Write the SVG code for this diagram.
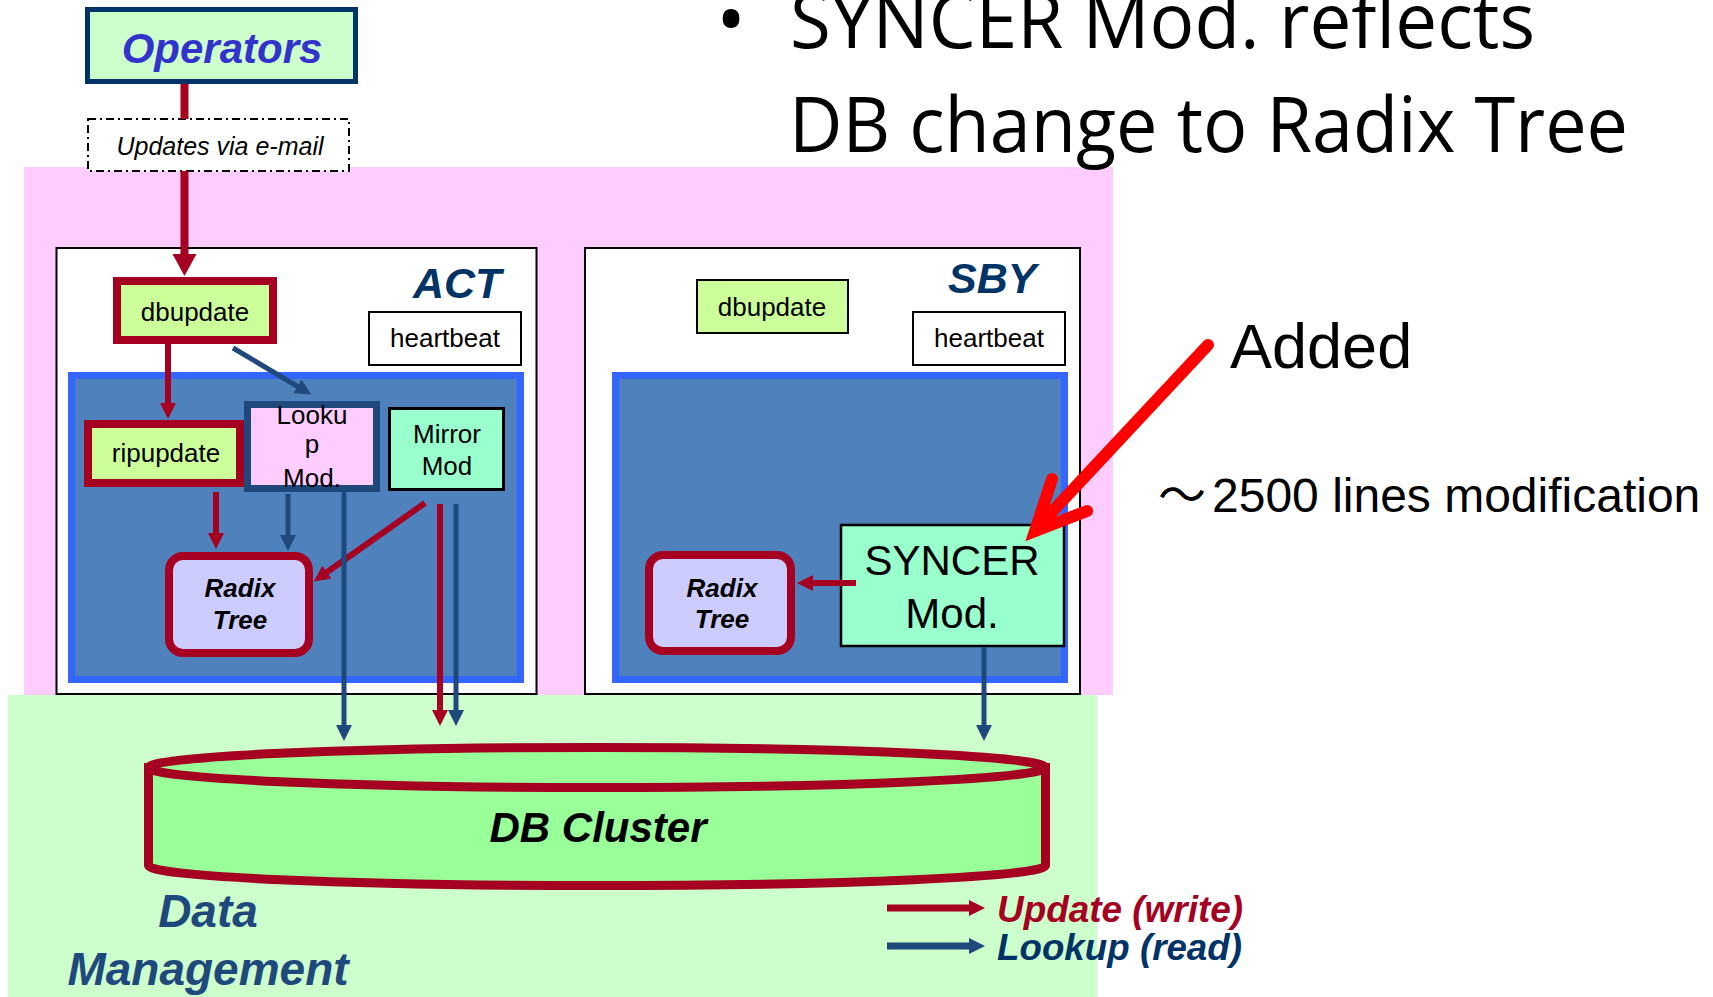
<svg xmlns="http://www.w3.org/2000/svg" width="1713" height="997" viewBox="0 0 1713 997">
<style>
text{font-family:"Liberation Sans",Arial,sans-serif;}
.box{stroke:#000;stroke-width:2;}
.bi{font-weight:bold;font-style:italic;}
.c{text-anchor:middle;}
.t26{font-size:26px;fill:#000;}
.red{stroke:#a50021;fill:none;}
.navy{stroke:#1f497d;fill:none;}
.green{fill:#ccff99;}
.radix{fill:#ccccff;stroke:#a50021;stroke-width:8;}
.blue{fill:#4f81bd;stroke:#3366ff;stroke-width:7;}
.title{font-size:43px;fill:#003366;font-weight:bold;font-style:italic;}
</style>
<defs>
<marker id="hr" markerUnits="userSpaceOnUse" markerWidth="17" markerHeight="17" refX="1" refY="8" orient="auto"><path d="M0,0 L16,8 L0,16 z" fill="#a50021"/></marker>
<marker id="hn" markerUnits="userSpaceOnUse" markerWidth="17" markerHeight="17" refX="1" refY="8" orient="auto"><path d="M0,0 L16,8 L0,16 z" fill="#1f497d"/></marker>
<marker id="hrb" markerUnits="userSpaceOnUse" markerWidth="23" markerHeight="24" refX="1" refY="12" orient="auto"><path d="M0,0 L22,12 L0,24 z" fill="#a50021"/></marker>
</defs>

<g id="background">
<rect x="24" y="167" width="1089" height="528" fill="#ffccff"/>
<rect x="8" y="695" width="1089" height="302" fill="#ccffcc"/>
</g>

<g id="headline">
<text x="731" y="48" class="c" style="font-family:'Open Sans',sans-serif;font-size:80px">•</text>
<text x="790" y="48" textLength="745" lengthAdjust="spacingAndGlyphs" style="font-family:'Open Sans',sans-serif;font-size:77px">SYNCER Mod. reflects</text>
<text x="789" y="152" textLength="839" lengthAdjust="spacingAndGlyphs" style="font-family:'Open Sans',sans-serif;font-size:77px">DB change to Radix Tree</text>
</g>

<g id="operators">
<rect x="87.5" y="9.5" width="268" height="72" fill="#ccffcc" stroke="#003366" stroke-width="5"/>
<text x="222" y="63" class="c bi" style="font-size:42px;fill:#3333cc">Operators</text>
</g>

<g id="email">
<rect x="88" y="119" width="261" height="52" fill="#fff" stroke="#000" stroke-width="2" stroke-dasharray="8 4 2 4"/>
<text x="220" y="155" class="c" style="font-size:25px;font-style:italic">Updates via e-mail</text>
</g>

<g id="act">
<rect x="56.5" y="248" width="480" height="446" fill="#fff" class="box"/>
<text x="413" y="298" class="title">ACT</text>
<rect x="71.5" y="375.5" width="449" height="304" class="blue"/>
</g>
<g id="act-heartbeat">
<rect x="369" y="312" width="152" height="53" fill="#fff" class="box"/>
<text x="445" y="347" class="c t26">heartbeat</text>
</g>
<g id="act-dbupdate">
<rect x="117" y="281" width="156" height="59" class="green" stroke="#a50021" stroke-width="8"/>
<text x="195" y="321" class="c t26">dbupdate</text>
</g>
<g id="act-ripupdate">
<rect x="88" y="424" width="152" height="59" class="green" stroke="#a50021" stroke-width="8"/>
<text x="166" y="462" class="c t26">ripupdate</text>
</g>
<g id="act-lookup">
<rect x="247.5" y="404.5" width="129" height="84" fill="#ffccff" stroke="#1f497d" stroke-width="7"/>
<text x="312" y="424" class="c t26">Looku</text>
<text x="312" y="453" class="c t26">p</text>
<text x="312" y="487" class="c t26">Mod.</text>
</g>
<g id="act-mirror">
<rect x="389.5" y="408.5" width="114" height="81" fill="#99ffcc" stroke="#000" stroke-width="3"/>
<text x="447" y="443" class="c t26">Mirror</text>
<text x="447" y="475" class="c t26">Mod</text>
</g>
<g id="act-radix">
<rect x="169" y="556" width="140" height="97" rx="14" class="radix"/>
<text x="240" y="597" class="c bi t26">Radix</text>
<text x="240" y="629" class="c bi t26">Tree</text>
</g>

<g id="sby">
<rect x="585" y="248" width="495" height="446" fill="#fff" class="box"/>
<text x="948" y="293" class="title">SBY</text>
<rect x="615.5" y="375.5" width="449" height="304" class="blue"/>
</g>
<g id="sby-dbupdate">
<rect x="697" y="280" width="151" height="53" class="green box"/>
<text x="772" y="316" class="c t26">dbupdate</text>
</g>
<g id="sby-heartbeat">
<rect x="913" y="312" width="152" height="53" fill="#fff" class="box"/>
<text x="989" y="347" class="c t26">heartbeat</text>
</g>
<g id="sby-radix">
<rect x="649" y="555" width="142" height="96" rx="14" class="radix"/>
<text x="722" y="597" class="c bi t26">Radix</text>
<text x="722" y="628" class="c bi t26">Tree</text>
</g>
<g id="syncer">
<rect x="841" y="525" width="223" height="121" fill="#99ffcc" stroke="#000" stroke-width="2.5"/>
<text x="952" y="575" class="c" style="font-size:42px">SYNCER</text>
<text x="952" y="628" class="c" style="font-size:42px">Mod.</text>
</g>

<g id="db-cluster">
<path d="M148.5,767.5 L148.5,865.5 A448.5,20 0 0 0 1045.5,865.5 L1045.5,767.5 Z" fill="#99ff99" stroke="#a50021" stroke-width="9"/>
<ellipse cx="597" cy="767.5" rx="448.5" ry="20" fill="#99ff99" stroke="#a50021" stroke-width="9"/>
<text x="598" y="842" class="c bi" style="font-size:42px">DB Cluster</text>
</g>

<g id="data-management">
<text x="208" y="927" class="c bi" style="font-size:46px;fill:#1f497d">Data</text>
<text x="208" y="985" class="c bi" style="font-size:46px;fill:#1f497d">Management</text>
</g>

<g id="connectors">
<line x1="184.5" y1="84" x2="184.5" y2="119" class="red" stroke-width="8"/>
<line x1="184.5" y1="171" x2="184.5" y2="255" class="red" stroke-width="8" marker-end="url(#hrb)"/>
<line x1="168" y1="344" x2="168" y2="404" class="red" stroke-width="6" marker-end="url(#hr)"/>
<line x1="233" y1="348" x2="298.3" y2="386.8" class="navy" stroke-width="5" marker-end="url(#hn)"/>
<line x1="216" y1="492" x2="216" y2="534" class="red" stroke-width="6" marker-end="url(#hr)"/>
<line x1="288" y1="494" x2="288" y2="536" class="navy" stroke-width="5" marker-end="url(#hn)"/>
<line x1="425" y1="503" x2="326.1" y2="572.8" class="red" stroke-width="6" marker-end="url(#hr)"/>
<line x1="344" y1="492" x2="344" y2="726" class="navy" stroke-width="5" marker-end="url(#hn)"/>
<line x1="440" y1="504" x2="440" y2="711" class="red" stroke-width="6" marker-end="url(#hr)"/>
<line x1="456" y1="504" x2="456" y2="711" class="navy" stroke-width="5" marker-end="url(#hn)"/>
<line x1="984" y1="647" x2="984" y2="726" class="navy" stroke-width="5" marker-end="url(#hn)"/>
<line x1="856" y1="583" x2="812" y2="583" class="red" stroke-width="6" marker-end="url(#hr)"/>
<path d="M1208,345 L1036,529 M1052,479 L1035,531 L1087,511" fill="none" stroke="#ff0000" stroke-width="12" stroke-linecap="round" stroke-linejoin="miter"/>
</g>

<g id="annotations">
<text x="1230" y="368" style="font-size:63px">Added</text>
<text x="1158" y="512" style="font-family:'Liberation Sans','Noto Sans CJK JP',sans-serif;font-size:48px">～<tspan dx="6">2500 lines modification</tspan></text>
</g>

<g id="legend">
<line x1="887" y1="908" x2="970" y2="908" class="red" stroke-width="7" marker-end="url(#hr)"/>
<line x1="887" y1="946" x2="970" y2="946" class="navy" stroke-width="7" marker-end="url(#hn)"/>
<text x="997" y="922" class="bi" textLength="246" lengthAdjust="spacingAndGlyphs" style="font-size:36px;fill:#a50021">Update (write)</text>
<text x="997" y="960" class="bi" textLength="245" lengthAdjust="spacingAndGlyphs" style="font-size:36px;fill:#003366">Lookup (read)</text>
</g>
</svg>
